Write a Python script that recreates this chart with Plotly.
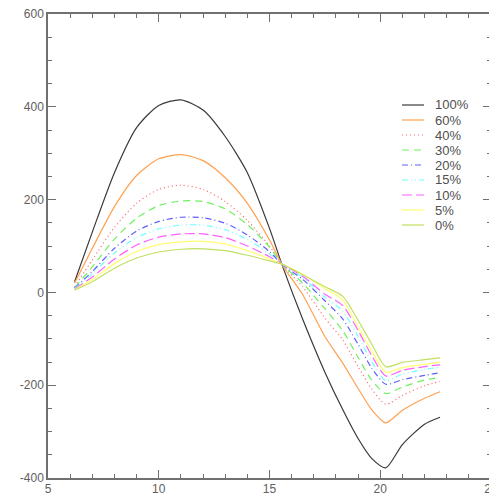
import plotly.graph_objects as go

x = [6.2, 7.0, 8.0, 9.0, 10.0, 11.0, 12.0, 13.0, 14.0, 15.0, 15.6, 16.5, 17.5, 18.3, 19.0, 19.6, 20.25, 21.0, 22.0, 22.7]

y100 = [23, 130, 258, 355, 403, 415, 393, 336, 258, 138, 55, -58, -172, -252, -315, -357, -378, -328, -284, -269]
y60 = [20, 95, 185, 252, 288, 297, 284, 247, 192, 113, 57, -5, -95, -152, -207, -252, -281, -254, -228, -214]
y40 = [12, 70, 140, 192, 222, 231, 222, 196, 155, 100, 58, 12, -55, -102, -160, -207, -241, -222, -201, -192]
y30 = [10, 55, 115, 160, 187, 197, 196, 180, 146, 98, 59, 20, -35, -82, -140, -188, -218, -204, -189, -183]
y20 = [9, 45, 95, 132, 153, 162, 161, 149, 124, 88, 59, 28, -18, -57, -112, -162, -198, -188, -179, -173]
y15 = [8, 40, 85, 118, 137, 145, 145, 135, 114, 83, 60, 32, -10, -40, -95, -148, -190, -176, -166, -161]
y10 = [7, 33, 72, 102, 119, 126, 126, 118, 100, 77, 60, 35, -4, -28, -82, -135, -180, -168, -160, -156]
y5 = [6, 28, 62, 88, 103, 109, 110, 104, 90, 72, 60, 39, 8, -16, -75, -125, -172, -162, -155, -151]
y0 = [5, 23, 52, 74, 87, 93, 94, 90, 80, 68, 60, 38, 12, -8, -60, -110, -160, -151, -145, -141]

labels = ["100%", "60%", "40%", "30%", "20%", "15%", "10%", "5%", "0%"]
series = [y100, y60, y40, y30, y20, y15, y10, y5, y0]
colors = ["#3a3a3a", "#ffa050", "#ff6060", "#70f060", "#6060ff", "#70ffff", "#ff60ff", "#ffff70", "#c0e060"]
dashes = ["solid", "solid", "1px,3px", "7px,5px", "6px,3px,1px,3px", "6px,3px,1px,3px,1px,3px", "10px,4px", "solid", "solid"]

x_ticks = [5, 10, 15, 20, 25]
y_ticks = [-400, -200, 0, 200, 400, 600]

fig = go.Figure()
for lab, ys, c, d in zip(labels, series, colors, dashes):
    fig.add_trace(go.Scatter(x=x, y=ys, mode="lines", name=lab,
                             line=dict(color=c, width=1.2, dash=d, shape="spline", smoothing=0.7),
                             showlegend=False))

# page body has an 8px margin; figure sized so it fits the 497x499 window
L, R, T, B = 40, 6, 6, 21
W, H = 489, 491
pw, ph = W - L - R, H - T - B
def px_x(p):
    return (p - L) / pw
def px_y(p):
    return (H - B - p) / ph

# manual legend (compact spacing like the original)
for i, (lab, c, d) in enumerate(zip(labels, colors, dashes)):
    py = 97 + 15 * i
    fig.add_shape(type="line", xref="paper", yref="paper",
                  x0=px_x(394), x1=px_x(416), y0=px_y(py), y1=px_y(py),
                  line=dict(color=c, width=1.2, dash=d))
    fig.add_annotation(xref="paper", yref="paper", x=px_x(425), y=px_y(py),
                       text=lab, showarrow=False, xanchor="left", yanchor="middle",
                       font=dict(family="Liberation Sans", size=13, color="#505050"))

axis_common = dict(showgrid=False, zeroline=False, showline=True, linecolor="#707070",
                   linewidth=1.5, mirror="allticks", ticks="inside", ticklen=8,
                   tickcolor="#707070", tickwidth=1, automargin=False,
                   ticklabeloverflow="allow",
                   tickfont=dict(family="Liberation Sans", size=12, color="#606060"))

fig.update_xaxes(range=[5, 25], tickvals=x_ticks, ticktext=[str(v) for v in x_ticks],
                 minor=dict(ticks="inside", dtick=1, ticklen=4, tickcolor="#707070"),
                 ticklabelstandoff=-1, **axis_common)
fig.update_yaxes(range=[-400, 600], tickvals=y_ticks, ticktext=[str(v) for v in y_ticks],
                 minor=dict(ticks="inside", dtick=50, ticklen=4, tickcolor="#707070"),
                 **axis_common)

fig.update_layout(width=W, height=H, margin=dict(l=L, r=R, t=T, b=B),
                  plot_bgcolor="white", paper_bgcolor="white", showlegend=False)

fig.write_html("out.html")
